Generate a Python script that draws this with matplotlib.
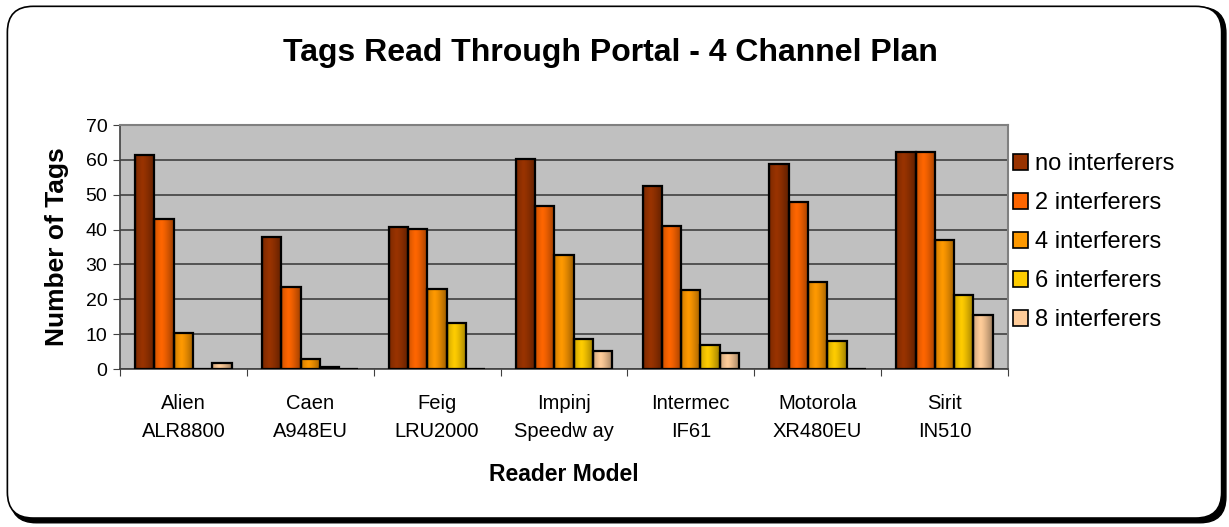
import numpy as np
import matplotlib.pyplot as plt
from matplotlib.patches import FancyBboxPatch, Patch
from matplotlib.colors import to_rgb

readers = ["Alien\nALR8800", "Caen\nA948EU", "Feig\nLRU2000", "Impinj\nSpeedw ay",
           "Intermec\nIF61", "Motorola\nXR480EU", "Sirit\nIN510"]
series = ["no interferers", "2 interferers", "4 interferers", "6 interferers", "8 interferers"]
no_interf = [61.3, 38.0, 40.8, 60.2, 52.6, 58.9, 62.3]
interf_2 = [43.0, 23.4, 40.3, 46.9, 41.1, 48.0, 62.3]
interf_4 = [10.4, 2.9, 22.9, 32.6, 22.8, 25.1, 37.1]
interf_6 = [0.0, 0.7, 13.3, 8.6, 6.9, 8.1, 21.1]
interf_8 = [1.8, 0.0, 0.0, 5.1, 4.6, 0.0, 15.4]
colors = ["#993300", "#FF6600", "#FF9900", "#FFCC00", "#FFCC99"]

values = [no_interf, interf_2, interf_4, interf_6, interf_8]

plt.rcParams['font.family'] = ['Liberation Sans', 'DejaVu Sans']

fig = plt.figure(figsize=(12.29, 5.27), dpi=100)

# rounded frame with a drop shadow on the bottom/right
aspect = 12.29 / 5.27
shadow = FancyBboxPatch((0.0085, 0.008), 0.989, 0.978, boxstyle="round,pad=0,rounding_size=0.021",
                        transform=fig.transFigure, facecolor="black", edgecolor="black",
                        mutation_aspect=aspect, zorder=0)
frame = FancyBboxPatch((0.006, 0.017), 0.988, 0.971, boxstyle="round,pad=0,rounding_size=0.021",
                       transform=fig.transFigure, facecolor="white", edgecolor="black",
                       linewidth=1.2, mutation_aspect=aspect, zorder=1)
fig.patches.extend([shadow, frame])

ax = fig.add_axes([0.0976, 0.2998, 0.7225, 0.463])
ax.set_facecolor("#C0C0C0")
ax.set_zorder(2)

x = np.arange(len(readers))
width = 0.152


def shade(color, n=40):
    # cylinder-like horizontal shading across the bar
    t = np.linspace(0, 1, n)
    f = 1.0 - 0.38 * np.clip(np.abs(t - 0.38) / 0.62, 0, 1) ** 1.3
    f[:3] *= 0.85
    rgb = np.array(to_rgb(color))
    img = np.clip(rgb[None, :] * f[:, None], 0, 1)
    return img[None, :, :]


for i, (vals, c) in enumerate(zip(values, colors)):
    pos = x + 0.5 + (i - 2) * width
    bars = ax.bar(pos, vals, width, color=c, edgecolor="black", linewidth=1.6, zorder=3)
    for b in bars:
        if b.get_height() <= 0:
            continue
        x0, y0 = b.get_x(), b.get_y()
        im = ax.imshow(shade(c), extent=[x0, x0 + b.get_width(), y0, y0 + b.get_height()],
                       aspect="auto", zorder=3.5, interpolation="bilinear")
        im.set_clip_path(b)
        b.set_facecolor("none")
        b.set_zorder(4)

ax.set_xlim(0, len(readers))
ax.set_ylim(0, 70)
ax.set_yticks(range(0, 71, 10))
ax.set_xticks(np.arange(len(readers) + 1))
ax.set_xticklabels([])
ax.set_xticks(x + 0.5, minor=True)
ax.set_xticklabels(readers, minor=True, fontsize=14.5, linespacing=1.6)
ax.tick_params(axis="x", which="minor", length=0, pad=18)
ax.tick_params(axis="x", which="major", length=5, color="#404040", direction="out")
ax.tick_params(axis="y", length=5, color="#404040", labelsize=14, pad=4)
ax.yaxis.grid(True, color="#404040", linewidth=1.2)
ax.set_axisbelow(True)
for s in ["top", "right"]:
    ax.spines[s].set_color("#808080")
    ax.spines[s].set_linewidth(1.5)
for s in ["left", "bottom"]:
    ax.spines[s].set_color("#404040")
    ax.spines[s].set_linewidth(1.2)

ax.set_ylabel("Number of Tags", fontsize=19, fontweight="bold", labelpad=12)
ax.set_xlabel("Reader Model", fontsize=16.5, fontweight="bold", labelpad=16)
fig.text(0.497, 0.9, "Tags Read Through Portal - 4 Channel Plan", fontsize=23,
         fontweight="bold", ha="center", va="center", zorder=5)

handles = [Patch(facecolor=c, edgecolor="black", linewidth=1.2) for c in colors]
fig.legend(handles, series, loc="upper left", bbox_to_anchor=(0.807, 0.75), frameon=False,
           fontsize=17, handlelength=0.65, handleheight=0.65, handletextpad=0.3,
           labelspacing=0.72)

fig.savefig("out.png", dpi=100)
